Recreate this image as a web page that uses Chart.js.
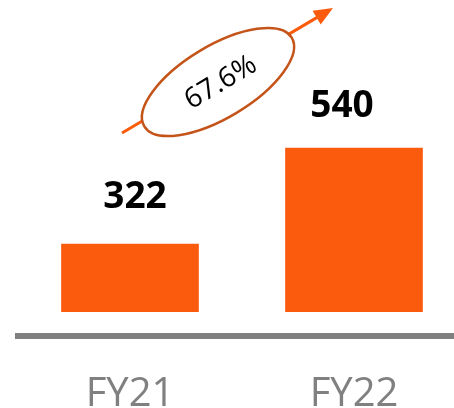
<!DOCTYPE html>
<html>
<head>
<meta charset="utf-8">
<script src="https://cdn.jsdelivr.net/npm/chart.js@4"></script>
<style>
  html, body { margin: 0; padding: 0; background: #fff; overflow: hidden; }
  #wrap { width: 466px; height: 408px; }
</style>
</head>
<body>
<div id="wrap"><canvas id="growthChart"></canvas></div>
<script>
// values
var years = ['FY21', 'FY22'];
var revenue = [322, 540];
var growthLabel = '67.6%';

const barColor = '#FB5B0C';
const growthColor = '#C4541A';

// value labels above the bars (slightly off-centre like the original)
const valueLabels = {
  id: 'valueLabels',
  afterDatasetsDraw(chart) {
    const ctx = chart.ctx;
    const bars = chart.getDatasetMeta(0).data;
    const shift = [[5, 36], [-12, 31]];
    ctx.save();
    ctx.fillStyle = '#000';
    ctx.font = 'bold 37px "Open Sans"';
    ctx.textAlign = 'center';
    ctx.textBaseline = 'alphabetic';
    bars.forEach(function (bar, i) {
      ctx.fillText(revenue[i], bar.x + shift[i][0], bar.y - shift[i][1]);
    });
    ctx.restore();
  }
};

// growth arrow with the ellipse round the percentage
const growthArrow = {
  id: 'growthArrow',
  afterDraw(chart) {
    const ctx = chart.ctx;
    const x0 = 122, y0 = 133, x1 = 333, y1 = 8;
    const ang = Math.atan2(y1 - y0, x1 - x0);
    ctx.save();
    ctx.strokeStyle = barColor;
    ctx.lineWidth = 3;
    ctx.beginPath();
    ctx.moveTo(x0, y0);
    ctx.lineTo(x1 - 14 * Math.cos(ang), y1 - 14 * Math.sin(ang));
    ctx.stroke();
    // head
    ctx.fillStyle = barColor;
    ctx.translate(x1, y1);
    ctx.rotate(ang);
    ctx.beginPath();
    ctx.moveTo(0, 0);
    ctx.lineTo(-19, -8);
    ctx.lineTo(-19, 8);
    ctx.closePath();
    ctx.fill();
    ctx.restore();

    ctx.save();
    ctx.translate(218, 82);
    ctx.rotate(-31 * Math.PI / 180);
    ctx.beginPath();
    ctx.ellipse(0, 0, 86, 36, 0, 0, Math.PI * 2);
    ctx.fillStyle = '#fff';
    ctx.fill();
    ctx.strokeStyle = growthColor;
    ctx.lineWidth = 2.5;
    ctx.stroke();
    ctx.fillStyle = '#000';
    ctx.font = '28px "Open Sans"';
    ctx.textAlign = 'center';
    ctx.textBaseline = 'middle';
    ctx.fillText(growthLabel, 2, 2);
    ctx.restore();
  }
};

new Chart(document.getElementById('growthChart'), {
  type: 'bar',
  data: {
    labels: years,
    datasets: [{
      data: revenue,
      backgroundColor: barColor,
      borderWidth: 0,
      barThickness: 137,
      base: 168
    }]
  },
  options: {
    responsive: true,
    maintainAspectRatio: false,
    animation: false,
    layout: { padding: { left: 18, right: 0, top: 0, bottom: 0 } },
    plugins: {
      legend: { display: false },
      tooltip: { enabled: false }
    },
    scales: {
      x: {
        grid: { display: false },
        border: { display: true, color: '#808080', width: 6 },
        ticks: {
          color: '#808080',
          font: { family: 'Open Sans', size: 40, lineHeight: 1 },
          padding: 31
        },
        afterFit: function (scale) { scale.height = 72; }
      },
      y: {
        display: false,
        min: 113,
        max: 876
      }
    }
  },
  plugins: [valueLabels, growthArrow]
});
</script>
</body>
</html>
